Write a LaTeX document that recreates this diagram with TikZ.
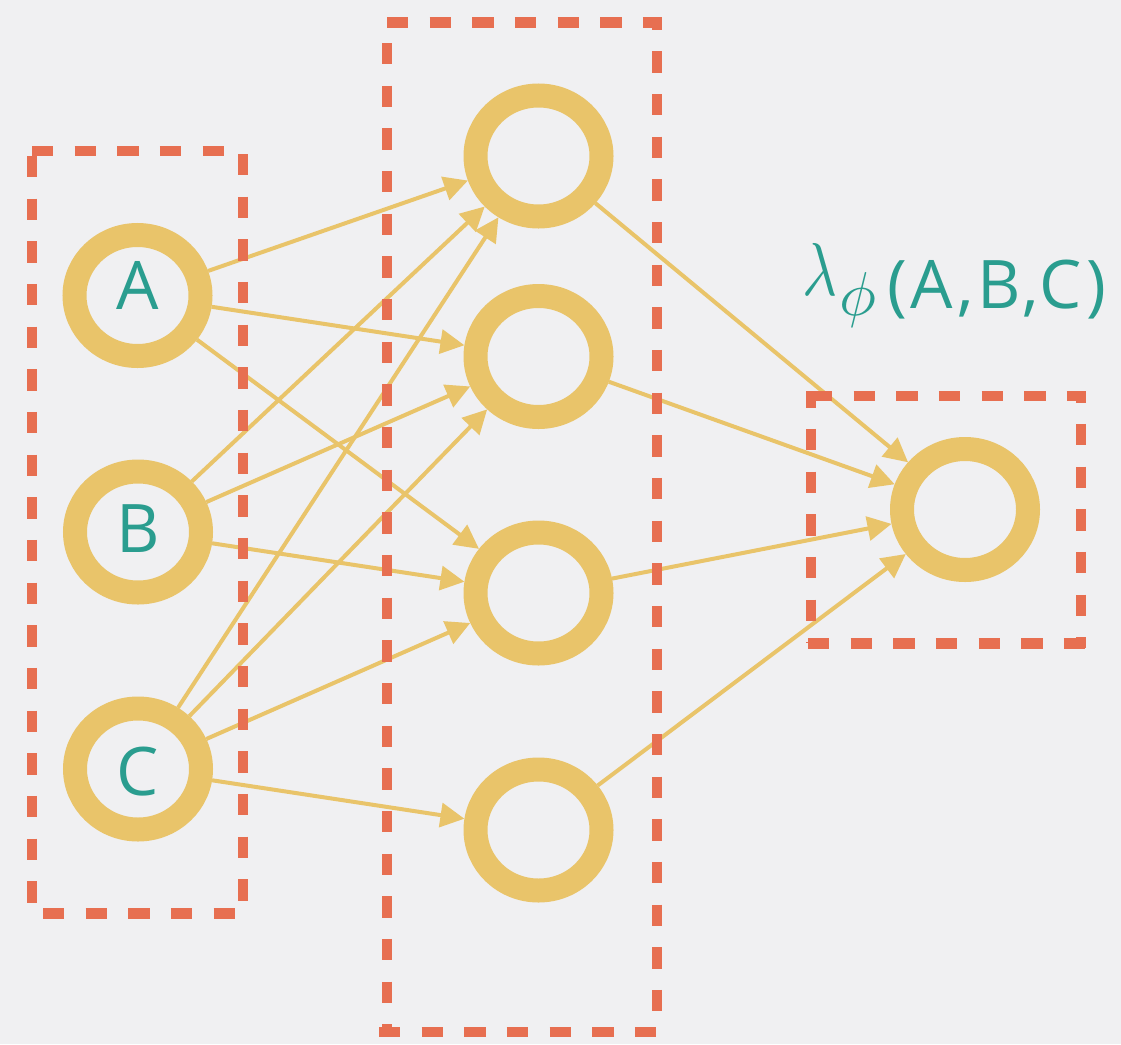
\documentclass[tikz,border=0pt]{standalone}
\usepackage{fontspec}
\usepackage{graphicx}
\usetikzlibrary{shapes.geometric,arrows.meta}
\newfontfamily\labelfont{Open Sans}
\newfontfamily\spacedlabelfont[LetterSpace=6]{Open Sans}
\definecolor{paper}{HTML}{F0F0F2}
\definecolor{gold}{HTML}{E9C46A}
\definecolor{tealtext}{HTML}{2A9D8F}
\definecolor{boxred}{HTML}{E76F51}
\pgfdeclarelayer{edges}
\pgfsetlayers{edges,main}
\tikzset{
  ring/.style={ellipse, draw=gold, line width=24pt, minimum width=126pt,
    minimum height=121pt, inner sep=0pt, outer sep=12pt},
  letter/.style={text=tealtext, inner sep=0pt, anchor=base,
    font=\labelfont\fontsize{67}{67}\selectfont},
  link/.style={draw=gold, line width=4pt, -{Triangle[length=24pt,width=24pt]}},
  groupline/.style={draw=boxred, line width=10.5pt, line cap=butt,
    dash pattern=on 21.33pt off 21.33pt}
}
\begin{document}
\begin{tikzpicture}[x=1pt,y=-1pt]
\useasboundingbox (0,0) rectangle (1121,1044);

% input layer
\node[ring] (A) at (137.5,295.5) {};
\node[ring] (B) at (138,532) {};
\node[ring] (C) at (138,769) {};
\node[letter] (tA) at (137.5,309) {A};
\node[letter] (tB) at (138,552) {B};
\node[letter] (tC) at (138,795) {C};

% hidden layer
\node[ring] (M1) at (538.5,156) {};
\node[ring] (M2) at (538.5,356.5) {};
\node[ring] (M3) at (538.5,593) {};
\node[ring] (M4) at (538.5,830) {};

% output unit
\node[ring] (O) at (965,509.5) {};

% output label: lambda_phi (A,B,C)
\node[text=tealtext, inner sep=0pt, anchor=base west] (lam) at (802,295)
  {\scalebox{6.0}[7.5]{$\lambda$}};
\node[text=tealtext, inner sep=0pt, anchor=base west] (phi) at (839,315)
  {\scalebox{6.2}{$\phi$}};
\node[text=tealtext, inner sep=0pt, anchor=base west,
  font=\spacedlabelfont\fontsize{67}{67}\selectfont] (args) at (887,308) {(A,B,C)};

\begin{pgfonlayer}{edges}
  \fill[paper] (0,0) rectangle (1121,1044);
  \foreach \s/\t in {A/M1,A/M2,A/M3,B/M1,B/M2,B/M3,C/M1,C/M2,C/M3,C/M4,
                     M1/O,M2/O,M3/O,M4/O}
    \draw[link] (\s) -- (\t);
\end{pgfonlayer}

% group outlines, one side at a time
\draw[groupline] (32,151) -- (243,151);
\draw[groupline] (243,154) -- (243,913);
\draw[groupline] (43,913.5) -- (243,913.5);
\draw[groupline] (32,156) -- (32,913);

\draw[groupline] (387,22.5) -- (662,22.5);
\draw[groupline, dash phase=8.3pt] (657,17) -- (657,1032);
\draw[groupline] (379,1032) -- (662,1032);
\draw[groupline] (387,43) -- (387,1037);

\draw[groupline] (811,396) -- (1086,396);
\draw[groupline, dash phase=9.7pt] (1081,391) -- (1081,648);
\draw[groupline] (808,643.5) -- (1086,643.5);
\draw[groupline, dash phase=4.7pt] (811,391) -- (811,643);
\end{tikzpicture}
\end{document}
